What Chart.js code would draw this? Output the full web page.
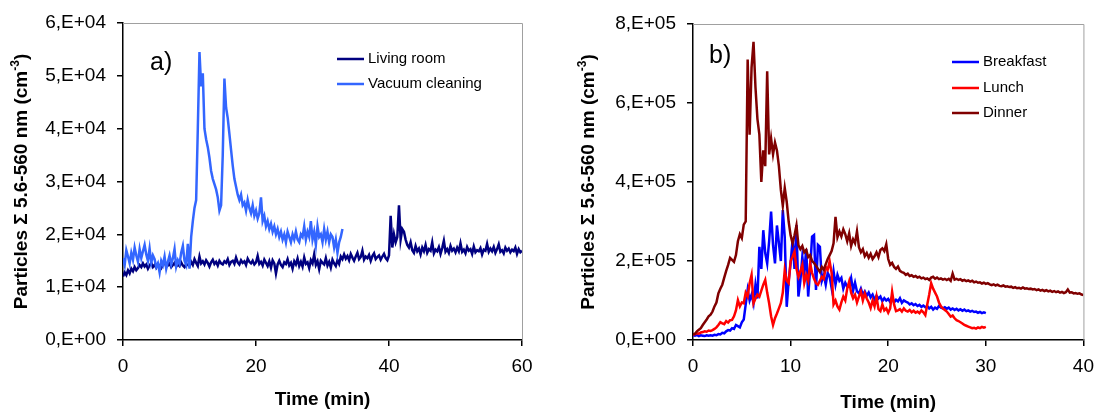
<!DOCTYPE html>
<html>
<head>
<meta charset="utf-8">
<script src="https://cdn.jsdelivr.net/npm/chart.js@4.4.1/dist/chart.umd.min.js"></script>
<style>
  html, body { margin: 0; padding: 0; background: #fff; }
  #wrap { position: relative; width: 1103px; height: 412px; overflow: hidden; }
  canvas { position: absolute; top: 0; }
  #chartA { left: 0; }
  #chartB { left: 560px; }
</style>
</head>
<body>
<div id="wrap">
  <canvas id="chartA" width="560" height="412"></canvas>
  <canvas id="chartB" width="543" height="412"></canvas>
</div>
<script>
// a) living room, sampled every 0.25 min (cm-3)
const STEP_A = 0.25;
const livingRoom = [
  12000,12800,12300,13200,12600,13500,13000,13800,
  13200,13600,14200,13800,14500,13900,14300,13500,
  14100,14600,13800,14200,13700,14400,14000,13600,
  14300,14800,13900,14100,14500,13800,14200,14600,
  13900,14300,14000,14700,14100,13800,14400,14200,
  14000,14800,14200,15300,14600,14000,15800,14500,
  14900,14300,15100,14600,13900,14700,15200,14400,
  14800,14100,15000,14500,14300,14900,14600,15300,
  14200,14800,15000,14400,15600,14700,14300,15100,
  14600,14900,14200,15400,14800,14500,15000,14300,
  14700,15900,14400,14800,14100,15200,14600,14000,
  14900,13700,15100,14500,12600,14300,15000,14200,
  13800,14700,14400,15300,14100,14600,13500,14900,
  14300,15400,14000,14800,13900,15600,14400,14700,
  13600,15100,14500,16200,14200,14900,13400,15000,
  14600,14300,15500,14100,14800,13700,15200,14500,
  14000,15100,14400,15800,15300,16200,15400,15900,
  15100,16300,15600,15000,15800,16500,15300,15700,
  16900,15200,15800,15500,16100,15000,15900,16400,
  15300,15700,16000,15200,15800,16300,15500,15100,
  16000,23500,17500,20000,18500,19500,25500,19000,
  21000,20500,19000,18000,17500,18500,17000,16500,
  17800,16800,17300,16200,17500,16800,18000,16500,
  17200,16900,18500,16400,17100,16800,17600,16300,
  17400,18800,16700,17200,16500,17800,16900,17300,
  16600,17500,16800,18300,16700,17100,16400,17600,
  16900,17200,16300,17700,16600,17000,16800,17400,
  16200,17100,16900,18200,16700,17300,16800,17600,
  16500,17200,18100,16700,17000,16400,17500,16900,
  17300,16600,17100,16800,17500,16300,17200,16600,
  16900
];
const vacuumCleaning = [
  15500,14200,17000,15800,14500,16500,15200,17500,
  16000,14800,17200,15500,16800,18000,16200,15000,
  17300,14600,16000,15300,13800,14500,12800,15000,
  14200,15800,13500,14800,16000,14300,15500,17200,
  13900,15100,14400,16500,17800,15000,14200,18200,
  13500,19500,22500,25000,26500,40000,54500,48000,
  50500,40000,38000,36500,34500,32000,30500,29500,
  28500,27000,24500,25500,35000,49500,44000,42000,
  39000,36000,33000,30500,29000,27500,26500,27500,
  25500,26000,24500,26500,25000,24000,25500,23500,
  24500,23000,24000,27000,22500,23500,21500,22500,
  21000,22000,20500,21500,20000,21000,19500,20500,
  19000,20000,18500,20500,19500,18500,20000,19000,
  20500,19000,18500,20000,19500,21500,19000,20500,
  19500,22500,19000,20500,18000,21500,19500,20000,
  18500,21000,19000,20500,18500,20000,19500,17500,
  19000,16500,18500,19500,21000
];

// b) cooking, sampled every 0.2 min, values in 1000 cm-3
const STEP_B = 0.2;
const breakfast = [
  12,11,13,10,12,11,10,12,11,12,
  11,13,12,15,14,18,17,22,25,24,
  30,28,38,35,32,45,52,90,127,100,
  115,93,140,105,236,180,278,220,194,250,
  325,240,194,290,245,200,329,260,84,150,
  194,253,180,291,110,150,211,170,230,110,
  180,262,266,127,241,236,150,165,140,170,
  160,132,174,140,165,150,157,130,145,135,
  140,157,125,145,123,118,130,115,123,112,
  120,108,115,102,112,105,110,98,106,100,
  104,96,110,95,102,98,106,94,100,97,
  95,90,93,88,91,86,89,84,87,83,
  86,80,84,77,82,79,86,82,80,83,
  79,82,77,80,76,79,75,78,74,77,
  73,75,72,74,71,72,69,71,68,70,
  68
];
const lunch = [
  13,15,17,16,19,20,22,21,24,23,
  25,28,32,38,45,42,40,48,44,50,
  51,60,75,101,85,95,93,120,110,144,
  165,93,105,115,110,125,140,152,120,93,
  60,38,55,67,80,93,120,177,150,144,
  200,211,224,180,160,174,190,144,165,150,
  194,170,155,144,140,150,160,155,185,178,
  199,170,90,100,85,77,95,110,100,130,
  148,120,106,115,95,110,123,100,118,105,
  95,81,100,85,110,78,73,90,75,80,
  69,80,122,90,73,75,78,72,80,74,
  72,76,70,74,69,72,68,75,70,63,
  90,115,144,130,120,110,95,85,80,76,
  72,66,59,62,55,50,48,45,42,38,
  36,34,32,30,31,29,32,30,33,31,
  33
];
const dinner = [
  14,16,22,26,30,38,45,52,60,64,
  72,85,95,118,130,140,158,175,190,208,
  203,198,215,250,268,258,292,300,710,520,
  690,755,640,560,520,400,480,440,680,470,
  510,470,500,480,440,380,340,385,350,300,
  265,245,265,290,240,230,238,222,228,210,
  215,200,195,188,180,172,185,178,192,205,
  215,225,245,312,260,275,262,280,268,250,
  270,238,255,245,275,235,222,230,212,220,
  208,218,205,212,222,210,228,232,225,242,
  205,190,195,185,180,186,175,172,170,165,
  168,162,164,160,162,158,160,156,158,154,
  156,152,158,160,155,158,154,156,153,155,
  152,155,150,168,153,155,152,154,150,152,
  149,151,148,150,146,148,145,146,143,145,
  142,144,141,139,141,138,140,137,136,138,
  135,136,134,135,132,134,131,132,130,133,
  130,131,129,130,128,129,126,128,125,127,
  124,126,123,125,122,124,121,123,120,122,
  119,121,128,120,121,118,119,117,118,115,
  114
];

const FONT = '"Liberation Sans", Arial, sans-serif';

function toPoints(values, step, factor) {
  return values.map((v, i) => ({ x: i * step, y: v * factor }));
}

function sciLabel(exp) {
  return function(v) {
    if (v === 0) return '0,E+00';
    return Math.round(v / Math.pow(10, exp)) + ',E+0' + exp;
  };
}

// frame, axis titles, panel letter and legend
const decor = {
  id: 'decor',
  afterDraw(chart, args, opts) {
    const ctx = chart.ctx;
    const a = chart.chartArea;
    ctx.save();
    ctx.strokeStyle = '#a0a0a0';
    ctx.lineWidth = 1;
    ctx.beginPath();
    ctx.moveTo(a.left, a.top + 0.5);
    ctx.lineTo(a.right + 0.5, a.top + 0.5);
    ctx.lineTo(a.right + 0.5, a.bottom);
    ctx.stroke();

    ctx.fillStyle = '#000';
    ctx.textBaseline = 'middle';

    // x title
    ctx.textAlign = 'center';
    ctx.font = 'bold 19px ' + FONT;
    ctx.fillText('Time (min)', (a.left + a.right) / 2, opts.xTitleY);

    // y title with superscript
    ctx.save();
    ctx.translate(opts.yTitleX, (a.top + a.bottom) / 2);
    ctx.rotate(-Math.PI / 2);
    ctx.textAlign = 'left';
    const main = 'Particles \u03A3 5.6-560 nm (cm';
    ctx.font = 'bold 19px ' + FONT;
    const w1 = ctx.measureText(main).width;
    const w3 = ctx.measureText(')').width;
    ctx.font = 'bold 12px ' + FONT;
    const w2 = ctx.measureText('-3').width;
    let cx = -(w1 + w2 + w3) / 2;
    ctx.font = 'bold 19px ' + FONT;
    ctx.fillText(main, cx, 0);
    cx += w1;
    ctx.font = 'bold 12px ' + FONT;
    ctx.fillText('-3', cx, -6);
    cx += w2;
    ctx.font = 'bold 19px ' + FONT;
    ctx.fillText(')', cx, 0);
    ctx.restore();

    // panel letter
    ctx.textAlign = 'left';
    ctx.textBaseline = 'alphabetic';
    ctx.font = '25px ' + FONT;
    ctx.fillText(opts.letter, opts.letterX, opts.letterY);

    // legend
    ctx.textBaseline = 'middle';
    ctx.font = '15px ' + FONT;
    opts.legend.forEach((item, i) => {
      const y = opts.legendY[i];
      ctx.strokeStyle = item.color;
      ctx.lineWidth = 2.5;
      ctx.beginPath();
      ctx.moveTo(opts.legendX, y);
      ctx.lineTo(opts.legendX + 27, y);
      ctx.stroke();
      ctx.fillText(item.label, opts.legendX + 31, y);
    });
    ctx.restore();
  }
};

function axisX(max, step, height) {
  return {
    type: 'linear', min: 0, max: max,
    afterFit: s => { s.height = height; },
    border: { color: '#000', width: 1.5 },
    grid: { drawOnChartArea: false, drawTicks: true, tickLength: 6, color: '#000', lineWidth: 1.5 },
    ticks: { stepSize: step, color: '#000', padding: 9, maxRotation: 0, font: { family: FONT, size: 19 } }
  };
}

function axisY(max, step, exp, width) {
  return {
    type: 'linear', min: 0, max: max,
    afterFit: s => { s.width = width; },
    border: { color: '#000', width: 1.5 },
    grid: { drawOnChartArea: false, drawTicks: true, tickLength: 6, color: '#000', lineWidth: 1.5 },
    ticks: { stepSize: step, color: '#000', padding: 11, callback: sciLabel(exp), font: { family: FONT, size: 19 } }
  };
}

function line(label, data, color, order) {
  return {
    label: label, data: data, borderColor: color, backgroundColor: color,
    borderWidth: 2.5, pointRadius: 0, tension: 0, order: order
  };
}

document.addEventListener('DOMContentLoaded', function() {
  const colA = ['#000080', '#3366ff'];
  new Chart(document.getElementById('chartA').getContext('2d'), {
    type: 'line',
    data: {
      datasets: [
        line('Living room', toPoints(livingRoom, STEP_A, 1), colA[0], 1),
        line('Vacuum cleaning', toPoints(vacuumCleaning, STEP_A, 1), colA[1], 0)
      ]
    },
    options: {
      responsive: false, animation: false, devicePixelRatio: 1, events: [],
      layout: { padding: { top: 23, right: 38, left: 0, bottom: 0 } },
      scales: { x: axisX(60, 20, 72), y: axisY(60000, 10000, 4, 123) },
      plugins: {
        legend: { display: false }, tooltip: { enabled: false },
        decor: {
          letter: 'a)', letterX: 150, letterY: 70,
          xTitleY: 400, yTitleX: 22,
          legendX: 337, legendY: [59, 84],
          legend: [{ label: 'Living room', color: colA[0] }, { label: 'Vacuum cleaning', color: colA[1] }]
        }
      }
    },
    plugins: [decor]
  });

  const colB = ['#0000ff', '#ff0000', '#800000'];
  new Chart(document.getElementById('chartB').getContext('2d'), {
    type: 'line',
    data: {
      datasets: [
        line('Breakfast', toPoints(breakfast, STEP_B, 1000), colB[0], 2),
        line('Lunch', toPoints(lunch, STEP_B, 1000), colB[1], 1),
        line('Dinner', toPoints(dinner, STEP_B, 1000), colB[2], 0)
      ]
    },
    options: {
      responsive: false, animation: false, devicePixelRatio: 1, events: [],
      layout: { padding: { top: 24, right: 11, left: 0, bottom: 0 } },
      scales: { x: axisX(40, 10, 72), y: axisY(800000, 200000, 5, 133) },
      plugins: {
        legend: { display: false }, tooltip: { enabled: false },
        decor: {
          letter: 'b)', letterX: 149, letterY: 63,
          xTitleY: 403, yTitleX: 29,
          legendX: 392, legendY: [62, 88, 113],
          legend: [
            { label: 'Breakfast', color: colB[0] },
            { label: 'Lunch', color: colB[1] },
            { label: 'Dinner', color: colB[2] }
          ]
        }
      }
    },
    plugins: [decor]
  });
});
</script>
</body>
</html>
